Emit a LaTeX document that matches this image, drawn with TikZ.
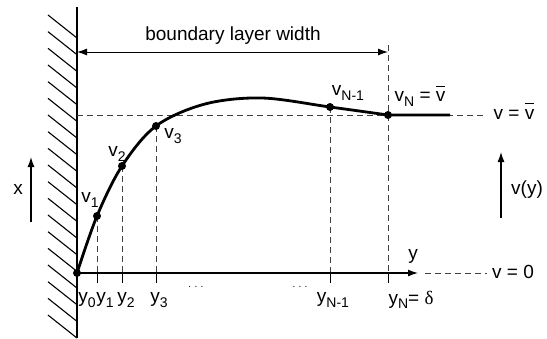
\documentclass[tikz,border=0pt]{standalone}
\usepackage{fontspec}
\setmainfont{Liberation Sans}
\newfontfamily\serifgreek{Liberation Serif}
\usepackage{tikz}
\usetikzlibrary{arrows.meta}

\tikzset{
  guide/.style={black!75, line width=0.9pt, dash pattern=on 6pt off 4pt},
  pt/.style={circle, fill=black, inner sep=0pt, minimum size=8pt},
  lbl/.style={inner sep=1pt},
  arr/.style={-{Latex[length=10pt,width=7pt]}, line width=1.2pt}
}
\newcommand{\vbar}{\ensuremath{\overline{\mbox{v\rule{0pt}{0.74em}}}}}
\newcommand{\lsub}[1]{\raisebox{-0.45ex}{\fontsize{14}{14}\selectfont #1}}

\begin{document}
\begin{tikzpicture}[x=1pt,y=-1pt]
  \fontsize{19}{22}\selectfont
  \useasboundingbox (0,0) rectangle (547,338);

  % wall with hatching
  \foreach \i in {0,...,18}
    \draw[line width=1.1pt] (48,15+16.67*\i) -- (77,38+16.67*\i);
  \draw[line width=2.4pt] (77,7) -- (77,338);

  % points on the profile
  \coordinate (p0) at (77,273);
  \coordinate (p1) at (97,216);
  \coordinate (p2) at (122,166);
  \coordinate (p3) at (156,126);
  \coordinate (pa) at (205,104);
  \coordinate (pb) at (262,98);
  \coordinate (pm) at (330,107);
  \coordinate (pn) at (388,115);
  \coordinate (pend) at (450,115);

  % axis feet
  \coordinate (a1) at (97,273);
  \coordinate (a2) at (122,273);
  \coordinate (a3) at (156,273);
  \coordinate (am) at (330,273);
  \coordinate (an) at (388,273);
  \coordinate (atip) at (418,273);

  % free stream level and edge of layer
  \draw[guide] (77,115) -- (483,115);
  \draw[guide] (388,45) -- (an);
  \foreach \p/\a in {p1/a1,p2/a2,p3/a3,pm/am}
    \draw[guide] (\p) -- (\a);
  \draw[guide] (425,273) -- (487,273);

  % y axis with ticks
  \draw[arr] (p0) -- (atip);
  \foreach \a in {a1,a2,a3,am,an}
    \draw[line width=1pt] (\a) -- ++(0,10);

  % profile
  \draw[line width=2.8pt] plot[smooth, tension=0.55] coordinates {(p0) (p1) (p2) (p3) (pa) (pb) (pm) (pn)} -- (pend);
  \foreach \p in {p0,p1,p2,p3,pm,pn}
    \node[pt] at (\p) {};

  % boundary layer width
  \coordinate (wtop) at (77,52);
  \coordinate (dtop) at (388,52);
  \draw[{Latex[length=10pt,width=7pt]}-{Latex[length=10pt,width=7pt]}, line width=1pt] (wtop) -- (dtop);
  \node[lbl] (lblwidth) at (233,36) {boundary layer width};

  % labels of the points
  \node[lbl] (lblv1) at (90,200) {v\lsub{1}};
  \node[lbl] (lblv2) at (117,154) {v\lsub{2}};
  \node[lbl] (lblv3) at (173,136) {v\lsub{3}};
  \node[lbl] (lblvm) at (348,93) {v\lsub{N-1}};
  \node[lbl] (lblvn) at (420,96) {v\lsub{N} = \vbar};
  \node[lbl] (lblvbar) at (514,111) {v = \vbar};
  \node[lbl] (lblvzero) at (513,272) {v = 0};
  \node[lbl] (lbly) at (413,256) {y};

  % labels below the axis
  \node[lbl] (lbly0) at (87,300) {y\lsub{0}};
  \node[lbl] (lbly1) at (105,300) {y\lsub{1}};
  \node[lbl] (lbly2) at (126,300) {y\lsub{2}};
  \node[lbl] (lbly3) at (159,300) {y\lsub{3}};
  \node[lbl] (dotsa) at (196,287) {\fontsize{10}{12}\selectfont .\,\,.\,\,.};
  \node[lbl] (dotsb) at (300,287) {\fontsize{10}{12}\selectfont .\,\,.\,\,.};
  \node[lbl] (lblym) at (333,300) {y\lsub{N-1}};
  \node[lbl] (lblyn) at (411,300) {y\lsub{N}= {\serifgreek δ}};

  % direction arrows
  \coordinate (xlo) at (31,222);
  \coordinate (xhi) at (31,157);
  \draw[arr] (xlo) -- (xhi);
  \node[lbl] (lblx) at (18,189) {x};
  \coordinate (vlo) at (501,218);
  \coordinate (vhi) at (501,152);
  \draw[arr] (vlo) -- (vhi);
  \node[lbl] (lblvy) at (527,190) {v(y)};
\end{tikzpicture}
\end{document}
